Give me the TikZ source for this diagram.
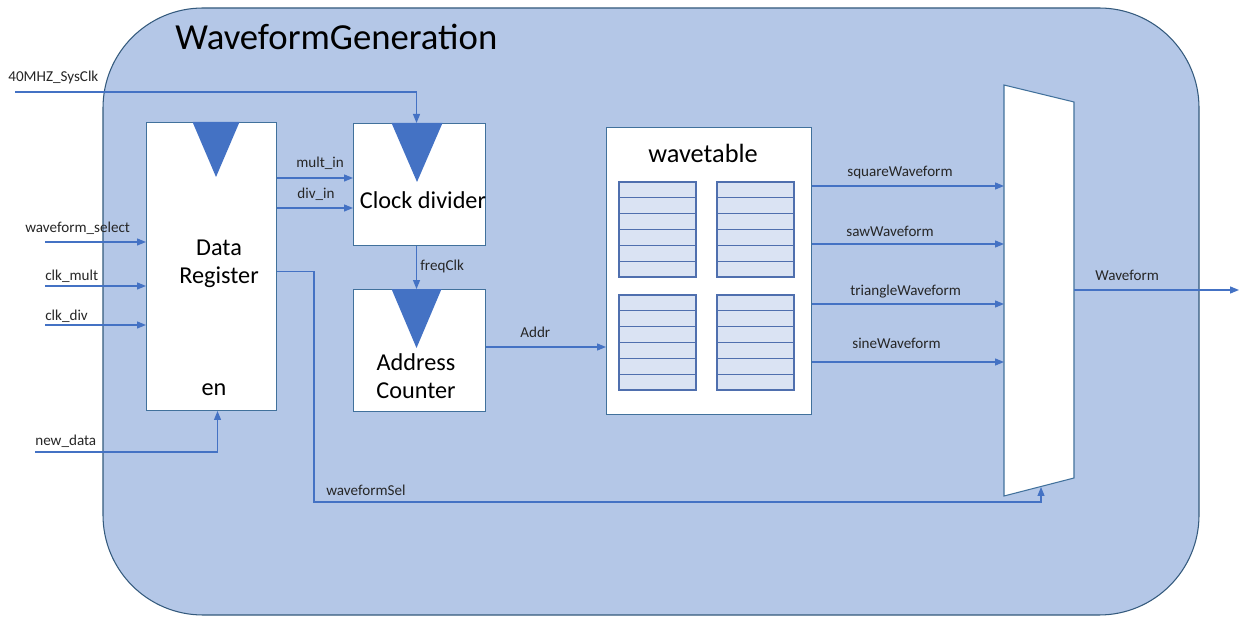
\documentclass[tikz,border=0pt]{standalone}
\usepackage{fontspec}
\setmainfont{Carlito}
\usetikzlibrary{arrows.meta,positioning}
\definecolor{bgblue}{HTML}{B4C7E7}
\definecolor{lineblue}{HTML}{4472C4}
\definecolor{edgeblue}{HTML}{41719C}
\definecolor{cellblue}{HTML}{DAE3F3}
\definecolor{celledge}{HTML}{4F6FAE}
\definecolor{labeltext}{HTML}{262626}

\begin{document}
\begin{tikzpicture}[x=0.02cm,y=-0.02cm,
		blk/.style={draw=edgeblue,fill=white,line width=0.6pt,inner sep=0pt},
		sig/.style={draw=lineblue,line width=0.7pt,-{Triangle[length=1.8mm,width=1.4mm]}},
		lbl/.style={font=\fontsize{8.6}{10}\selectfont,text=labeltext,inner sep=0pt,anchor=base west},
		big/.style={font=\fontsize{13.8}{16}\selectfont,align=center,inner sep=0pt},
		cell/.style={draw=celledge,fill=cellblue,line width=0.6pt}]
			\useasboundingbox (0,0) rectangle (1239,617);
			\clip (0,0) rectangle (1239,617);
			\fill[white] (0,0) rectangle (1239,617);
			\draw[fill=bgblue,draw=edgeblue!80!black,line width=0.6pt,rounded corners=2cm] (103,8) rectangle (1199,615);
			\node[font=\fontsize{20.9}{25}\selectfont,anchor=west,inner sep=0pt] (title) at (175,37) {WaveformGeneration};

			% blocks
			\node[blk,minimum width=2.6cm,minimum height=5.76cm,anchor=north west] (datareg) at (146,122) {};
			\node[blk,minimum width=2.64cm,minimum height=2.44cm,anchor=north west] (clkdiv) at (353,123) {};
			\node[blk,minimum width=2.64cm,minimum height=2.44cm,below=0.86cm of clkdiv] (addrcnt) {};
			\node[blk,minimum width=4.1cm,minimum height=5.74cm,anchor=north west] (wt) at (606,127) {};
			\draw[blk] (1004,85) -- (1074,102) -- (1074,478) -- (1004,496) -- cycle;

			% clock triangles
			\foreach \b/\dx/\w/\h in {datareg/-0.38/0.94/1.1, clkdiv/-0.56/1.02/1.18, addrcnt/-0.56/1.0/1.18}
				\fill[lineblue] ([xshift=\dx cm]\b.north) -- ++(\w cm,0) -- ([xshift={(\dx+\w/2)*1cm},yshift=-\h cm]\b.north) -- cycle;

			\node[big] (dregtxt) at (219,264) {Data\\Register};
			\node[big] (dregen)  at (214,390) {en};
			\node[big] (clktxt)  at (423,200) {Clock divider};
			\node[big] (addrtxt) at (416,376) {Address\\Counter};
			\node[big,font=\fontsize{15}{18}\selectfont] (wttxt) at (703,153) {wavetable};

			% wavetable cells
			\foreach \x in {619,717}
				\foreach \y in {182,295} {
					\draw[cell] (\x,\y) rectangle +(77,95);
					\foreach \k in {1,...,5}
						\draw[celledge,line width=0.6pt] (\x,\y+\k*15.9) -- +(77,0);
				}

			% inputs
			\coordinate (sysclk) at (15,92);
			\draw[sig] (sysclk) -| ([xshift=-0.06cm]clkdiv.north);
			\node[lbl] (sysclklbl) at (8,82) {40MHZ\_SysClk};
			\foreach \y/\t/\lx/\ly in {242/waveform\_select/25/233, 286/clk\_mult/45/281, 325/clk\_div/45/321} {
				\coordinate (src) at (45,\y);
				\draw[sig] (src) -- (src -| datareg.west);
				\node[lbl] (in\y) at (\lx,\ly) {\t};
			}
			\coordinate (newdata) at (35,452);
			\draw[sig] (newdata) -| ([xshift=0.12cm]datareg.south);
			\node[lbl] (newdatalbl) at (35,445) {new\_data};

			% internal signals
			\coordinate (multrow) at (0,178);
			\coordinate (divrow)  at (0,208);
			\coordinate (addrrow) at (0,347);
			\draw[sig] (datareg.east |- multrow) -- (clkdiv.west |- multrow);
			\draw[sig] (datareg.east |- divrow)  -- (clkdiv.west |- divrow);
			\node[lbl] (multlbl) at (296,168) {mult\_in};
			\node[lbl] (divlbl)  at (297,199) {div\_in};
			\draw[sig] ([xshift=-0.06cm]clkdiv.south) -- ([xshift=-0.06cm]addrcnt.north);
			\node[lbl] (freqlbl) at (420,271) {freqClk};
			\draw[sig] (addrcnt.east |- addrrow) -- (wt.west |- addrrow);
			\node[lbl] (addrlbl) at (520,338) {Addr};

			% waveforms into the mux
			\coordinate (muxin) at (1004,0);
			\foreach \y/\t/\lx/\ly in {186/squareWaveform/847/177, 244/sawWaveform/846/237, 304/triangleWaveform/850/296, 362/sineWaveform/852/349} {
				\coordinate (row) at (0,\y);
				\draw[sig] (wt.east |- row) -- (muxin |- row);
				\node[lbl] (wave\y) at (\lx,\ly) {\t};
			}
			\coordinate (muxout) at (1074,290);
			\coordinate (wout) at (1239,290);
			\draw[sig] (muxout) -- (wout);
			\node[lbl] (woutlbl) at (1095,281) {Waveform};

			% select line
			\coordinate (selrow) at (314,502);
			\coordinate (selin) at (1041,487);
			\draw[sig] ([yshift=-0.1cm]datareg.east) -| (selrow) -| (selin);
			\node[lbl] (sellbl) at (326,495) {waveformSel};
		\end{tikzpicture}
\end{document}
